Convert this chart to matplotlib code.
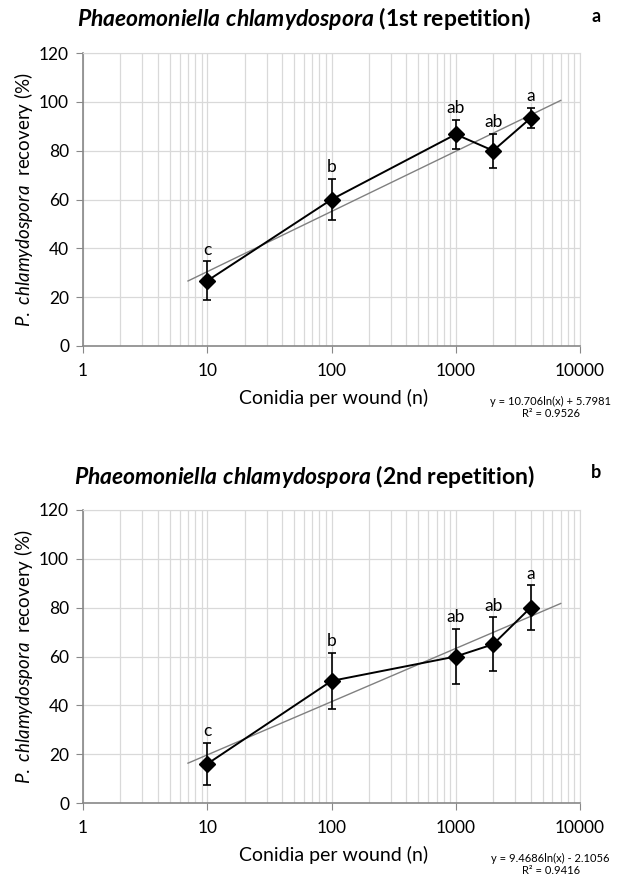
import numpy as np
import matplotlib.pyplot as plt

plt.rcParams['font.family'] = ['Lato', 'DejaVu Sans']
plt.rcParams['mathtext.fontset'] = 'custom'
plt.rcParams['mathtext.rm'] = 'Lato'
plt.rcParams['mathtext.it'] = 'Lato:italic'
plt.rcParams['mathtext.bf'] = 'Lato:bold'
plt.rcParams['mathtext.bfit'] = 'Lato:bold:italic'

# data
conidia = [10, 100, 1000, 2000, 4000]

rec_a = [26.7, 60.0, 86.7, 80.0, 93.3]
err_a = [8.0, 8.5, 6.0, 7.0, 4.2]
letters_a = ['c', 'b', 'ab', 'ab', 'a']

rec_b = [16.0, 50.0, 60.0, 65.0, 80.0]
err_b = [8.6, 11.5, 11.2, 11.0, 9.1]
letters_b = ['c', 'b', 'ab', 'ab', 'a']

# log trend lines (coefficients printed on the chart)
trend_a = (10.706, 5.7981, 0.9526)
trend_b = (9.4686, -2.1056, 0.9416)
trend_range = [7, 7000]

yticks = [0, 20, 40, 60, 80, 100, 120]
xticks = [1, 10, 100, 1000, 10000]

fig = plt.figure(figsize=(6.23, 8.81), dpi=100)
W, H = 623, 881
AX_L, AX_R = 83, 580
AX_H = 293


def panel(top, vals, errs, letters, trend, title, tag):
    ax = fig.add_axes([AX_L / W, 1 - (top + AX_H) / H, (AX_R - AX_L) / W, AX_H / H])
    ax.set_xscale('log')
    ax.set_xlim(1, 10000)
    ax.set_ylim(0, 120)

    ax.grid(True, which='both', axis='x', color='#d9d9d9', lw=0.9)
    ax.grid(True, which='major', axis='y', color='#d9d9d9', lw=0.9)
    ax.set_axisbelow(True)

    for s in ['top', 'right']:
        ax.spines[s].set_color('#d9d9d9')
    for s in ['left', 'bottom']:
        ax.spines[s].set_color('#888888')
        ax.spines[s].set_linewidth(1.2)

    ax.set_xticks(xticks)
    ax.set_xticklabels([str(x) for x in xticks])
    ax.set_yticks(yticks)
    ax.tick_params(axis='both', which='major', length=5, color='#888888',
                   labelsize=12.5)
    ax.tick_params(axis='x', pad=7)
    ax.tick_params(axis='y', pad=5)
    ax.tick_params(axis='x', which='minor', length=0)

    # trend line
    a, b, r2 = trend
    tx = np.geomspace(trend_range[0], trend_range[1], 50)
    ax.plot(tx, a * np.log(tx) + b, color='#808080', lw=1.0, zorder=2)

    ax.errorbar(conidia, vals, yerr=errs, color='black', lw=1.4,
                marker='D', ms=8, elinewidth=1.2, capsize=3, capthick=1.2,
                zorder=3)

    for x, y, e, l in zip(conidia, vals, errs, letters):
        ax.text(x, y + e + 1.5, l, ha='center', va='bottom', fontsize=12.5)

    ax.set_ylabel(r'$\mathit{P.\ chlamydospora}$  recovery (%)', fontsize=13.5)
    ax.yaxis.set_label_coords(24 / W, 1 - (top + AX_H / 2) / H,
                              transform=fig.transFigure)
    ax.yaxis.label.set_va('center')
    ax.set_xlabel('Conidia per wound (n)', fontsize=14)
    ax.xaxis.set_label_coords(334 / W, 1 - (top + AX_H + 52) / H,
                              transform=fig.transFigure)
    ax.xaxis.label.set_va('center')

    fig.text(304 / W, 1 - (top - 34) / H, title, ha='center', va='center',
             fontsize=16.5, fontweight='bold')
    fig.text(596 / W, 1 - (top - 37) / H, tag, ha='center', va='center',
             fontsize=13, fontweight='bold')

    sign = '+' if b >= 0 else '-'
    fig.text(550 / W, 1 - (top + AX_H + 55) / H,
             'y = {:.5g}ln(x) {} {:.5g}'.format(a, sign, abs(b)),
             ha='center', va='center', fontsize=8)
    fig.text(551 / W, 1 - (top + AX_H + 68) / H, 'R² = {:.4f}'.format(r2),
             ha='center', va='center', fontsize=8)
    return ax


panel(53, rec_a, err_a, letters_a, trend_a,
      r'$\mathbfit{Phaeomoniella\ chlamydospora}$ (1st repetition)', 'a')
panel(510, rec_b, err_b, letters_b, trend_b,
      r'$\mathbfit{Phaeomoniella\ chlamydospora}$ (2nd repetition)', 'b')

fig.savefig('out.png', dpi=100)
